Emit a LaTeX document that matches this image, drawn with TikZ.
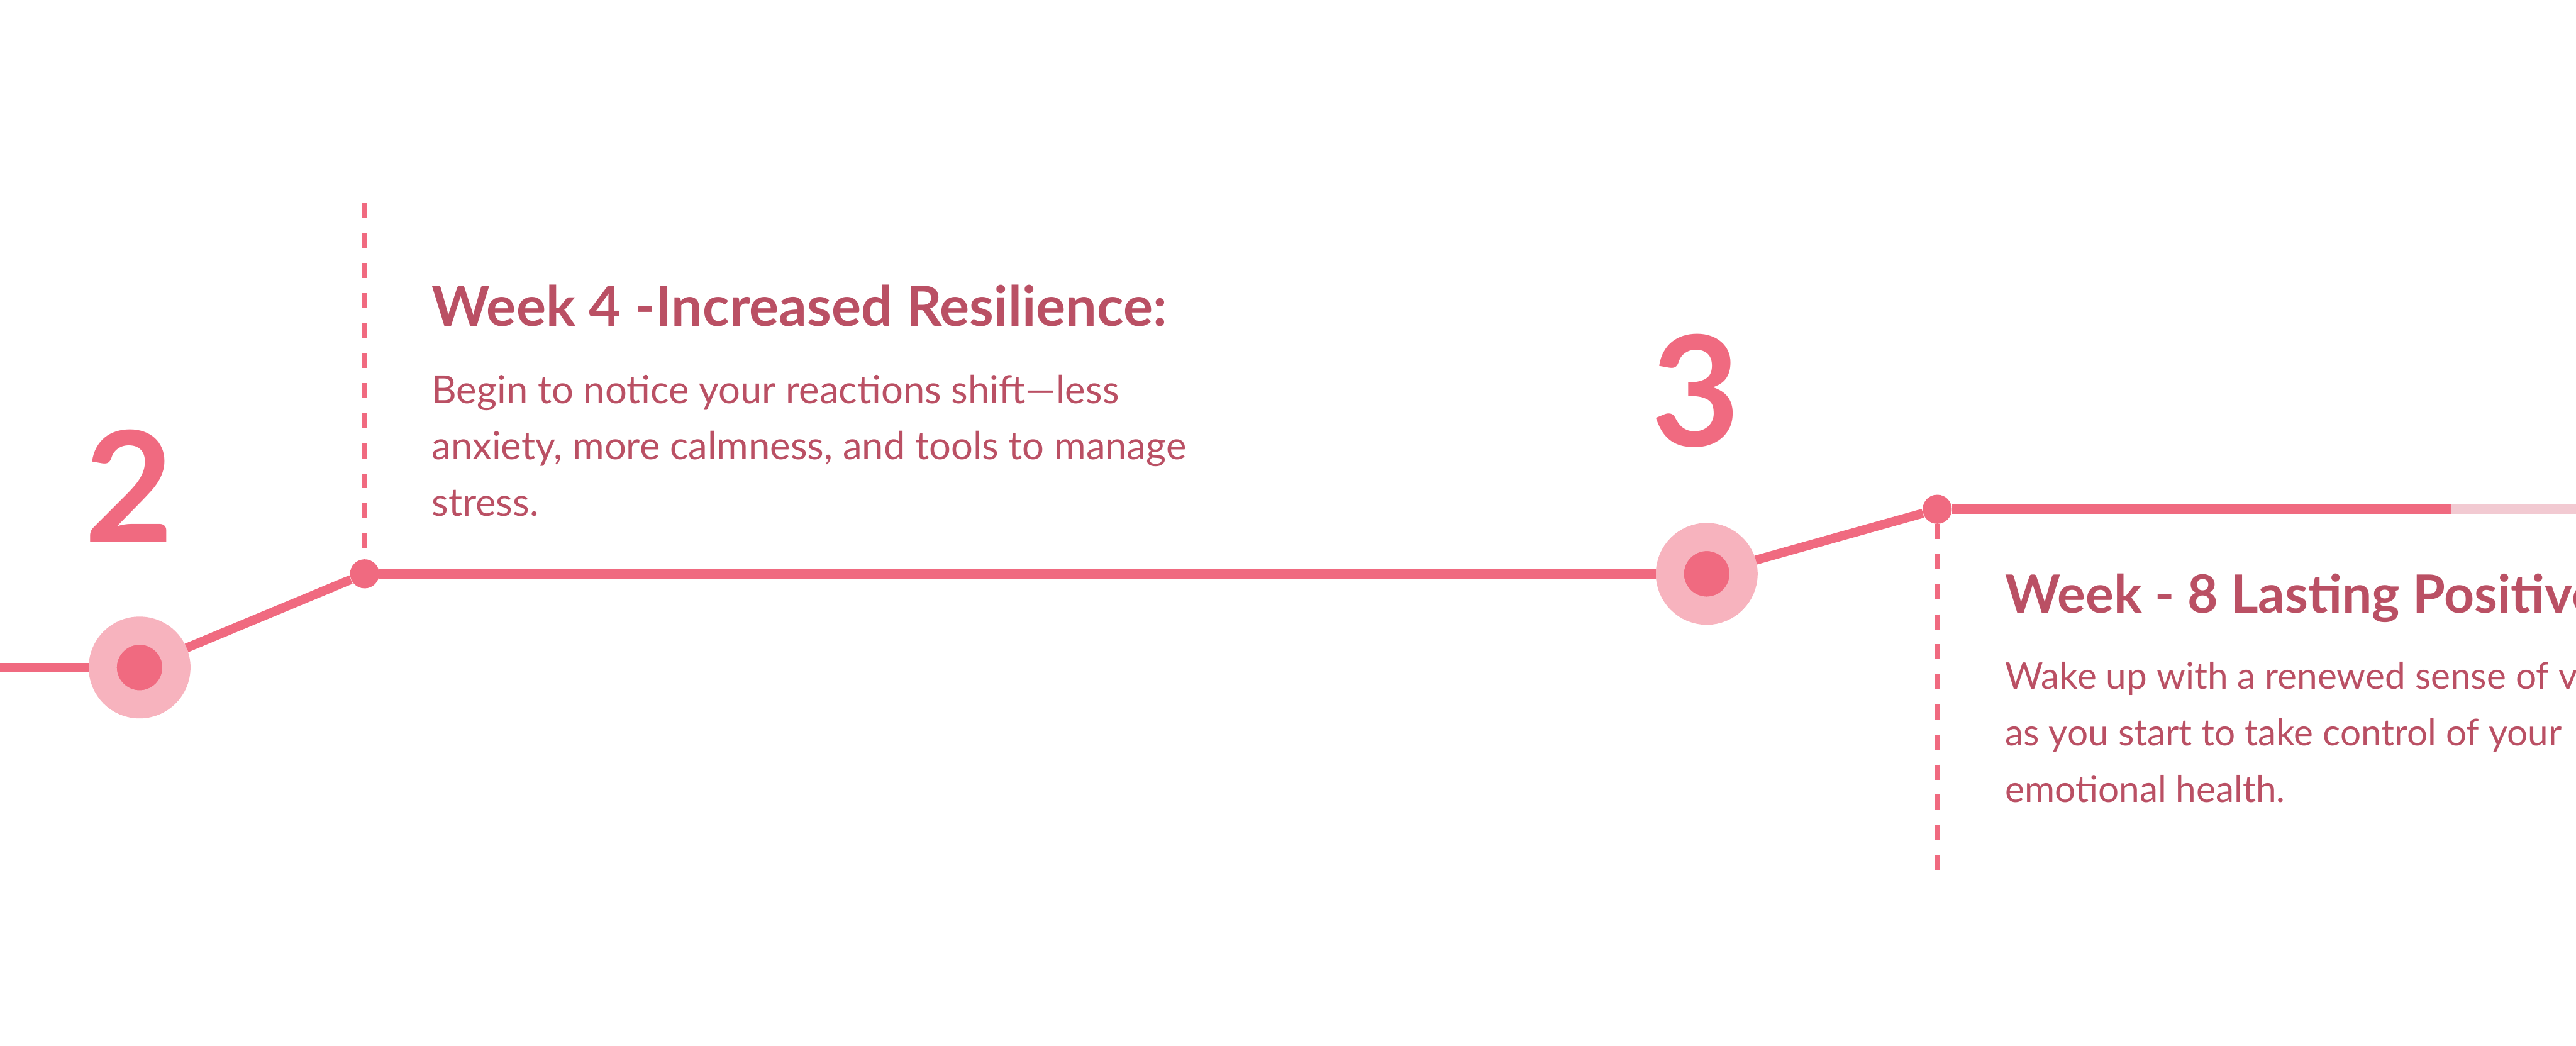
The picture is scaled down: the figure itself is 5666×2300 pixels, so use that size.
\documentclass[tikz,border=0pt]{standalone}
\usepackage{fontspec}
\setmainfont{Lato}
\usetikzlibrary{positioning}

\definecolor{tlpink}{HTML}{F06A80}
\definecolor{tlring}{HTML}{F7B3BE}
\definecolor{tlfade}{HTML}{F2CAD2}
\definecolor{tlrose}{HTML}{BA5064}

\tikzset{
  track/.style={tlpink,line width=5.7pt},
  fadetrack/.style={tlfade,line width=5.7pt},
  guide/.style={tlpink,line width=3.1pt,dash pattern=on 9.4pt off 9.4pt},
  milestone/.style={circle,inner sep=0pt,minimum size=1.62cm,
    fill=tlpink,draw=tlring,line width=17.6pt},
  knot/.style={circle,inner sep=0pt,minimum size=0.64cm,fill=tlpink},
  numeral/.style={inner sep=0pt,text=tlpink,
    font=\fontsize{96pt}{96pt}\selectfont\bfseries},
  weekhead/.style={anchor=base west,inner sep=0pt,text=tlrose,
    font=\fontsize{34.7pt}{42pt}\selectfont\bfseries},
  weekbody/.style={anchor=base west,inner sep=0pt,text=tlrose,align=left,
    font=\fontsize{24.2pt}{35.3pt}\selectfont},
  lasthead/.style={weekhead,font=\fontsize{33pt}{40pt}\selectfont\bfseries},
  lastbody/.style={weekbody,font=\fontsize{23pt}{35.3pt}\selectfont}
}

\begin{document}
\begin{tikzpicture}[x=0.01cm,y=-0.01cm]
  \useasboundingbox (0,0) rectangle (5666,2300);
  \clip (0,0) rectangle (5666,2300);

  % milestones and joints
  \node[milestone] (m2) at (307,1468) {};
  \node[milestone] (m3) at (3754,1262) {};
  \node[knot] (k4) at (802,1262) {};
  \node[knot] (k8) at (4261,1120) {};
  \coordinate (start) at (0,1468);
  \coordinate (fade) at (5392,1120);
  \coordinate (end) at (5666,1120);
  \coordinate (top4) at (802,446);
  \coordinate (bot8) at (4261,1944);

  % the track
  \draw[track] (start) -- (m2);
  \draw[track] (m2) -- (k4);
  \draw[track] (k4) -- (m3);
  \draw[track] (m3) -- (k8);
  \draw[track] (k8) -- (fade);
  \draw[fadetrack] (fade) -- (end);

  \draw[guide] (top4) -- (k4);
  \draw[guide] (k8) -- (bot8);

  \node[numeral] (n2) at (284,1069) {2};
  \node[numeral] (n3) at (3730,860) {3};

  % text blocks (base = last line)
  \node[weekhead] (h4) at (949,717) {Week 4 -Increased Resilience:};
  \node[weekbody] (b4) at (949,1135)
    {Begin to notice your reactions shift—less\\
     anxiety, more calmness, and tools to manage\\
     stress.};

  \node[lasthead] (h8) at (4410,1348) {Week - 8 Lasting Positive};
  \node[lastbody] (b8) at (4410,1764)
    {Wake up with a renewed sense of v\\
     as you start to take control of your\\
     emotional health.};
\end{tikzpicture}
\end{document}
